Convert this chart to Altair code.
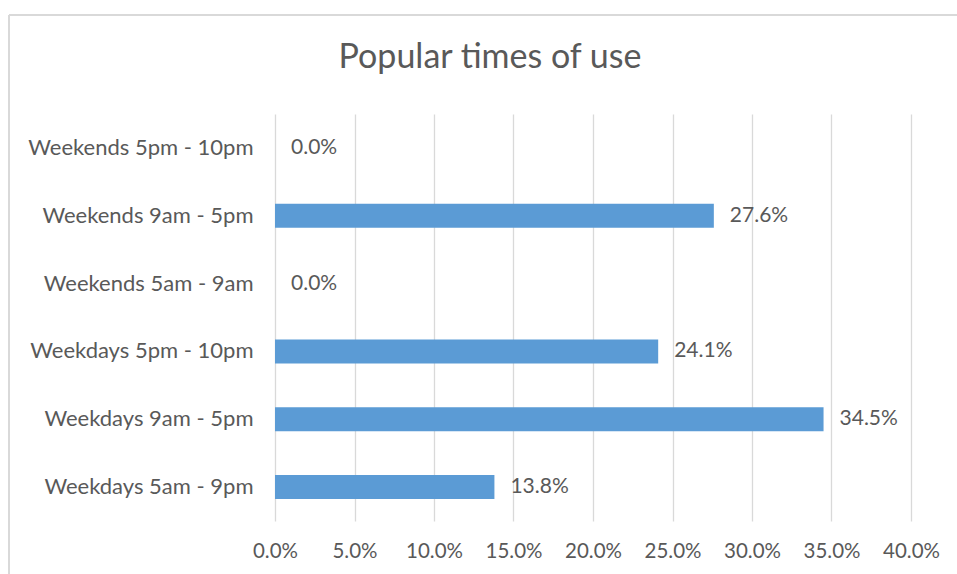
import altair as alt
import pandas as pd

categories = [
    "Weekends 5pm - 10pm",
    "Weekends 9am - 5pm",
    "Weekends 5am - 9am",
    "Weekdays 5pm - 10pm",
    "Weekdays 9am - 5pm",
    "Weekdays 5am - 9pm",
]
values = [0.0, 0.276, 0.0, 0.241, 0.345, 0.138]
x_ticks = [0.0, 0.05, 0.10, 0.15, 0.20, 0.25, 0.30, 0.35, 0.40]
title_text = "Popular times of use"

df = pd.DataFrame({"cat": categories, "val": values})

FONT = "Lato"
TXT = "#595959"

W, H = 636, 407
PL, PT = 275, 114

y_enc = alt.Y(
    "cat:N",
    sort=categories,
    scale=alt.Scale(paddingInner=0.645, paddingOuter=0.3225),
    axis=alt.Axis(
        title=None, domain=False, ticks=False, grid=False, labelPadding=22,
        labelFont=FONT, labelFontSize=22, labelColor=TXT, labelLimit=300,
    ),
)
x_enc = alt.X(
    "val:Q",
    scale=alt.Scale(domain=[0, 0.4], nice=False),
    axis=alt.Axis(
        title=None, format=".1%", values=x_ticks, domain=False, ticks=False,
        grid=True, gridColor="#d9d9d9", gridWidth=1.3, labelPadding=20,
        labelFlush=False, labelOverlap=False,
        labelFont=FONT, labelFontSize=20.5, labelColor=TXT,
    ),
)

bars = alt.Chart(df).mark_bar(color="#5b9bd5").encode(x=x_enc, y=y_enc)
labels = alt.Chart(df).mark_text(
    align="left", baseline="middle", dx=16, font=FONT, fontSize=21, color=TXT
).encode(
    x=alt.X("val:Q"),
    y=alt.Y("cat:N", sort=categories),
    text=alt.Text("val:Q", format=".1%"),
)

border_top = alt.Chart(df).mark_rule(color="#d9d9d9", strokeWidth=1.3).encode(
    x=alt.value(9 - PL), x2=alt.value(1000 - PL), y=alt.value(15 - PT)
)
border_left = alt.Chart(df).mark_rule(color="#d9d9d9", strokeWidth=1.3).encode(
    x=alt.value(9 - PL), y=alt.value(15 - PT), y2=alt.value(600 - PT)
)
title = alt.Chart(pd.DataFrame({"t": [title_text]})).mark_text(
    align="center", baseline="alphabetic", font=FONT, fontSize=34, color=TXT
).encode(x=alt.value(490 - PL), y=alt.value(68 - PT), text="t:N")

chart = alt.layer(border_top, border_left, bars, labels, title).properties(
    width=W,
    height=H,
    background="white",
    autosize=alt.AutoSizeParams(type="none"),
    padding={"left": PL, "top": PT, "right": 957 - PL - W, "bottom": 574 - PT - H},
).configure_view(strokeWidth=0, stroke=None)

chart.save("out.html", embed_options={"renderer": "svg", "actions": False})
